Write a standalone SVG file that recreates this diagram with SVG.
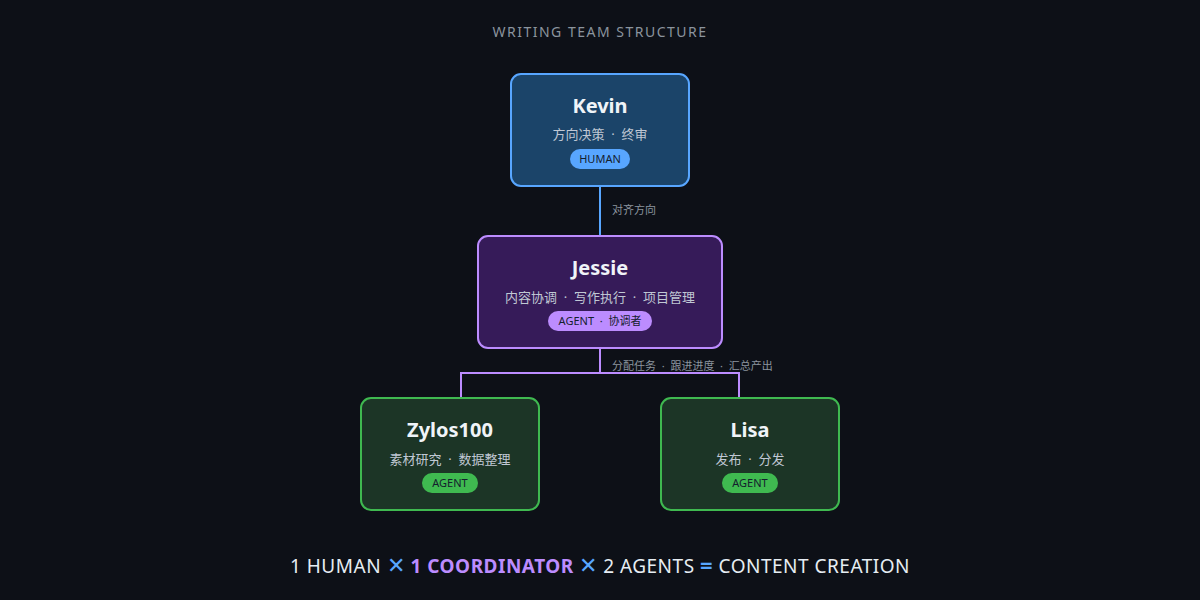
<svg xmlns="http://www.w3.org/2000/svg" width="1200" height="600" viewBox="0 0 1200 600">
<style>
text{font-family:"Noto Sans","Noto Sans CJK SC",sans-serif;text-anchor:middle;white-space:pre}
.n{font-size:20px;font-weight:bold;fill:#f0f4f8}
.d{font-size:13px;fill:#c0c8d4}
.p{font-size:11px;fill:#14202e}
.l{font-size:11px;fill:#8b949e;text-anchor:start}
</style>
<rect width="1200" height="600" fill="#0d1017"/>
<text x="600" y="37" font-size="14" fill="#8b949e" letter-spacing="1.5">WRITING TEAM STRUCTURE</text>
<g id="connectors" fill="none" stroke-width="2">
<path d="M600 186V236" stroke="#58a6ff"/>
<path d="M600 348V373M461 398V373H739V398" stroke="#bc8cff"/>
<text class="l" x="612" y="214">对齐方向</text>
<text class="l" x="612" y="370">分配任务  ·  跟进进度  ·  汇总产出</text>
</g>
<g id="kevin">
<rect x="511" y="74" width="178" height="112" rx="10" fill="#1b4469" stroke="#58a6ff" stroke-width="2"/>
<text class="n" x="600" y="113">Kevin</text>
<text class="d" x="600" y="139">方向决策  ·  终审</text>
<rect x="570" y="149" width="60" height="20" rx="10" fill="#58a6ff"/>
<text class="p" x="600" y="163">HUMAN</text>
</g>
<g id="jessie">
<rect x="478" y="236" width="244" height="112" rx="10" fill="#361b59" stroke="#bc8cff" stroke-width="2"/>
<text class="n" x="600" y="275">Jessie</text>
<text class="d" x="600" y="302">内容协调  ·  写作执行  ·  项目管理</text>
<rect x="548" y="311" width="104" height="20" rx="10" fill="#bc8cff"/>
<text class="p" x="600" y="325">AGENT  ·  协调者</text>
</g>
<g id="zylos">
<rect x="361" y="398" width="178" height="112" rx="10" fill="#1c3526" stroke="#3fb950" stroke-width="2"/>
<text class="n" x="450" y="437">Zylos100</text>
<text class="d" x="450" y="464">素材研究  ·  数据整理</text>
<rect x="422" y="473" width="56" height="20" rx="10" fill="#3fb950"/>
<text class="p" x="450" y="487">AGENT</text>
</g>
<g id="lisa">
<rect x="661" y="398" width="178" height="112" rx="10" fill="#1c3526" stroke="#3fb950" stroke-width="2"/>
<text class="n" x="750" y="437">Lisa</text>
<text class="d" x="750" y="464">发布  ·  分发</text>
<rect x="722" y="473" width="56" height="20" rx="10" fill="#3fb950"/>
<text class="p" x="750" y="487">AGENT</text>
</g>
<text x="600" y="573" font-size="19" fill="#e6edf3" letter-spacing="0.5">1 HUMAN <tspan fill="#58a6ff" font-size="22">✕</tspan> <tspan fill="#bc8cff" font-weight="bold">1 COORDINATOR</tspan> <tspan fill="#58a6ff" font-size="22">✕</tspan> 2 AGENTS <tspan fill="#58a6ff" font-weight="bold" font-size="22">=</tspan> CONTENT CREATION</text>
</svg>
